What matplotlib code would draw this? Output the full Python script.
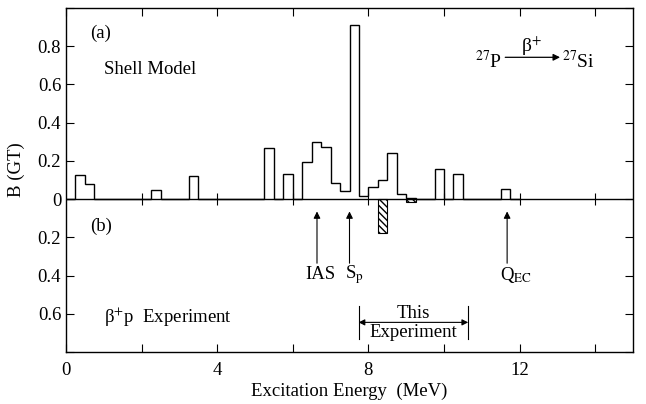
import numpy as np
import matplotlib.pyplot as plt

plt.rcParams['font.family'] = 'Liberation Serif'
plt.rcParams['mathtext.fontset'] = 'stix'
plt.rcParams['font.size'] = 13.5

# --- data: 0.25 MeV bins, left edges (MeV) and B(GT) ---
bin_width = 0.25
shell_lo = [0.25, 0.5, 0.75, 1.0, 2.25, 3.25, 5.25, 5.75, 6.25, 6.5, 6.75, 7.0,
            7.25, 7.5, 7.75, 8.0, 8.25, 8.5, 8.75, 9.0, 9.75, 10.25, 11.5]
shell_b = [0.125, 0.08, 0.003, 0.003, 0.05, 0.12, 0.265, 0.13, 0.195, 0.30, 0.275, 0.083,
           0.04, 0.91, 0.018, 0.065, 0.10, 0.24, 0.025, 0.008, 0.16, 0.133, 0.055]

exp_lo = [8.25, 9.0]
exp_b = [0.175, 0.015]

markers = ['IAS', 'S$_{\\rm p}$', 'Q$_{\\rm EC}$']
marker_e = [6.64, 7.5, 11.67]
marker_label_x = [6.72, 7.62, 11.9]

this_exp_range = [7.74, 10.64]

xticks = [0, 2, 4, 6, 8, 10, 12, 14]
xticklabels = ['0', '', '4', '', '8', '', '12', '']
yticks = [-0.8, -0.6, -0.4, -0.2, 0, 0.2, 0.4, 0.6, 0.8, 1.0]
yticklabels = ['', '0.6', '0.4', '0.2', '0', '0.2', '0.4', '0.6', '0.8', '']

# shell model as a stepped histogram on a regular 0.25 MeV grid
edges = np.arange(0, 12.01, bin_width)
shell_hist = np.zeros(len(edges) - 1)
for lo, b in zip(shell_lo, shell_b):
    shell_hist[int(round(lo / bin_width))] = b

# --- figure ---
fig = plt.figure(figsize=(6.46, 4.04), dpi=100)
ax = fig.add_axes([66 / 646, 52 / 404, 567 / 646, 344 / 404])

ax.stairs(shell_hist, edges, color='black', linewidth=1.0)
ax.bar(exp_lo, [-v for v in exp_b], width=bin_width, align='edge',
       facecolor='white', edgecolor='black', hatch='\\\\\\\\\\', linewidth=0.8)

ax.axhline(0, color='black', linewidth=1.0)
ax.plot(xticks[1:], [0] * (len(xticks) - 1), linestyle='none', marker='|',
        markersize=8, color='black', markeredgewidth=0.8)

ax.set_xlim(0, 15)
ax.set_ylim(-0.8, 1.0)
ax.set_xticks(xticks)
ax.set_xticklabels(xticklabels)
ax.set_yticks(yticks)
ax.set_yticklabels(yticklabels)
ax.tick_params(direction='in', top=True, right=True, length=6, width=0.8)
ax.tick_params(axis='x', pad=7)
for s in ax.spines.values():
    s.set_linewidth(1.0)

ax.set_xlabel('Excitation Energy  (MeV)', labelpad=3)
fig.text(16 / 646, 1 - 170 / 404, 'B (GT)', rotation=90, ha='center', va='center')

# panel labels
ax.text(0.63, 0.87, '(a)', ha='left', va='center')
ax.text(1.0, 0.68, 'Shell Model', ha='left', va='center')
ax.text(0.63, -0.145, '(b)', ha='left', va='center')
ax.text(1.0, -0.62, 'β$^{+}$p  Experiment', ha='left', va='center')

# reaction label
ax.text(10.82, 0.72, '$^{27}$P', ha='left', va='center', fontsize=14)
ax.annotate('', xy=(13.07, 0.742), xytext=(11.62, 0.742),
            arrowprops=dict(arrowstyle='-|>', lw=0.9, color='black', mutation_scale=10,
                            shrinkA=0, shrinkB=0))
ax.text(12.32, 0.80, 'β$^{+}$', ha='center', va='center', fontsize=14)
ax.text(13.11, 0.72, '$^{27}$Si', ha='left', va='center', fontsize=14)

# markers
for lab, e, lx in zip(markers, marker_e, marker_label_x):
    ax.annotate('', xy=(e, -0.05), xytext=(e, -0.35),
                arrowprops=dict(arrowstyle='-|>', lw=0.8, color='black', mutation_scale=10))
    ax.text(lx, -0.395, lab, ha='center', va='center')

# this experiment range
for e in this_exp_range:
    ax.plot([e, e], [-0.56, -0.73], color='black', linewidth=0.8)
ax.annotate('', xy=(this_exp_range[1], -0.645), xytext=(this_exp_range[0], -0.645),
            arrowprops=dict(arrowstyle='<|-|>', lw=0.8, color='black', mutation_scale=9,
                            shrinkA=0, shrinkB=0))
mid = sum(this_exp_range) / 2
ax.text(mid, -0.597, 'This', ha='center', va='center')
ax.text(mid, -0.7, 'Experiment', ha='center', va='center')

plt.savefig('out.png', dpi=100)
